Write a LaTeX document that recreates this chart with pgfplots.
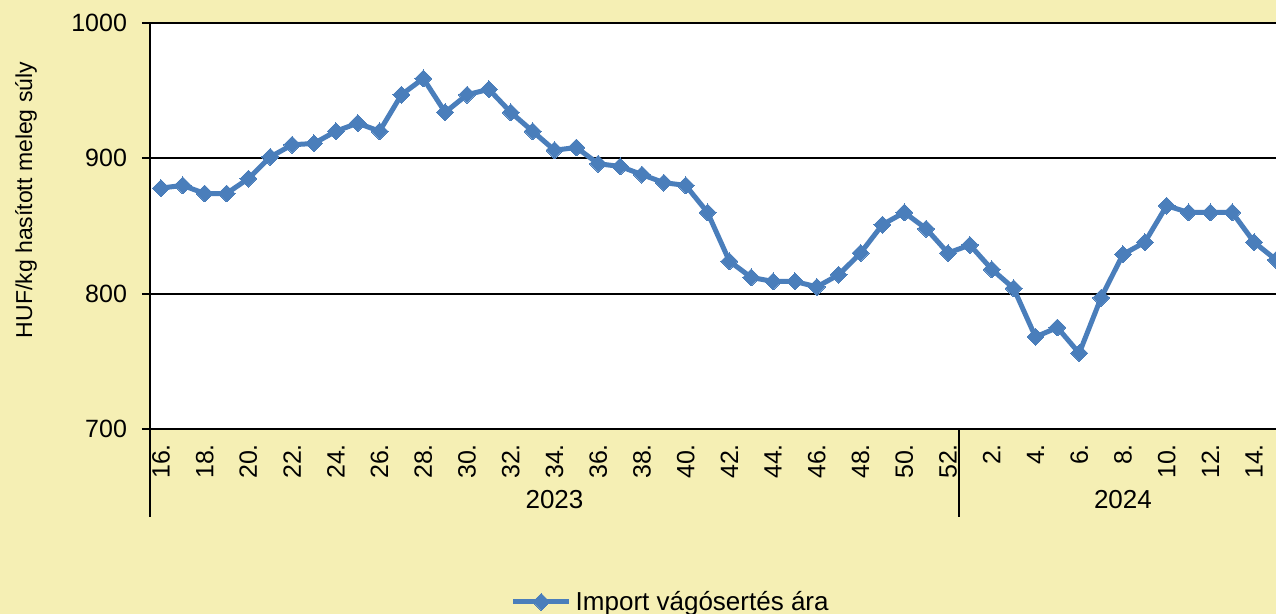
\documentclass[border=0pt]{standalone}
\usepackage{fontspec}
\setmainfont{Liberation Sans}
\usepackage{pgfplots}
\pgfplotsset{compat=1.18}
\definecolor{bg}{RGB}{245,239,180}
\definecolor{ser}{RGB}{74,126,187}
\begin{document}
\begin{tikzpicture}[x=1pt,y=1pt]
\path[use as bounding box, fill=bg] (0,0) rectangle (638,307);
\begin{axis}[at={(75pt,92.5pt)}, anchor=south west, scale only axis,
  width=563pt, height=203pt, clip=false,
  xmin=-0.5, xmax=51, ymin=700, ymax=1000,
  ytick={700,800,900,1000},
  axis lines*=left, axis line style={line width=1pt, black},
  axis background/.style={fill=white},
  ymajorgrids, grid style={black, line width=1pt},
  tick align=outside, major tick length=4pt,
  ytick style={line width=1pt, black},
  xtick style={draw=none},
  /pgf/number format/assume math mode=true,
  /pgf/number format/1000 sep={},
  tick label style={font=\fontsize{12.5}{14}\selectfont},
  yticklabel style={xshift=-4pt},
  xtick={0,2,4,6,8,10,12,14,16,18,20,22,24,26,28,30,32,34,36,38,40,42,44,46,48,50},
  xticklabels={16.,18.,20.,22.,24.,26.,28.,30.,32.,34.,36.,38.,40.,42.,44.,46.,48.,50.,52.,2.,4.,6.,8.,10.,12.,14.},
  xticklabel style={rotate=90, anchor=east},
  legend style={draw=none, fill=none, at={(0.32,-0.426)}, anchor=west,
    font=\fontsize{13}{15}\selectfont, inner sep=0pt},
  legend cell align=left,
  legend image code/.code={\draw[mark repeat=2,mark phase=2,#1] plot coordinates {(0pt,0pt) (14pt,0pt) (28pt,0pt)};},
]
\addplot[ser, line width=2.5pt, mark=square*, mark size=3pt,
  mark options={rotate=45, solid, fill=ser, draw=ser, line width=0pt}] table {
x y
0 878
1 880
2 874
3 874
4 885
5 901
6 910
7 911
8 920
9 926
10 920
11 947
12 959
13 934
14 947
15 951
16 934
17 920
18 906
19 908
20 896
21 894
22 888
23 882
24 880
25 860
26 824
27 812
28 809
29 809
30 805
31 814
32 830
33 851
34 860
35 848
36 830
37 836
38 818
39 804
40 768
41 775
42 756
43 797
44 829
45 838
46 865
47 860
48 860
49 860
50 838
51 825
};
\addlegendentry{Import vágósertés ára}
\draw[line width=1pt] (axis cs:-0.5,700) -- ([yshift=-44pt]axis cs:-0.5,700);
\draw[line width=1pt] (axis cs:36.5,700) -- ([yshift=-44pt]axis cs:36.5,700);
\node[font=\fontsize{13}{15}\selectfont] at (axis cs:18,700) [yshift=-35.5pt] {2023};
\node[font=\fontsize{13}{15}\selectfont] at (axis cs:44,700) [yshift=-35.5pt] {2024};
\end{axis}
\node[rotate=90, font=\fontsize{11.5}{13}\selectfont] at (13,207) {HUF/kg hasított meleg súly};
\end{tikzpicture}
\end{document}
